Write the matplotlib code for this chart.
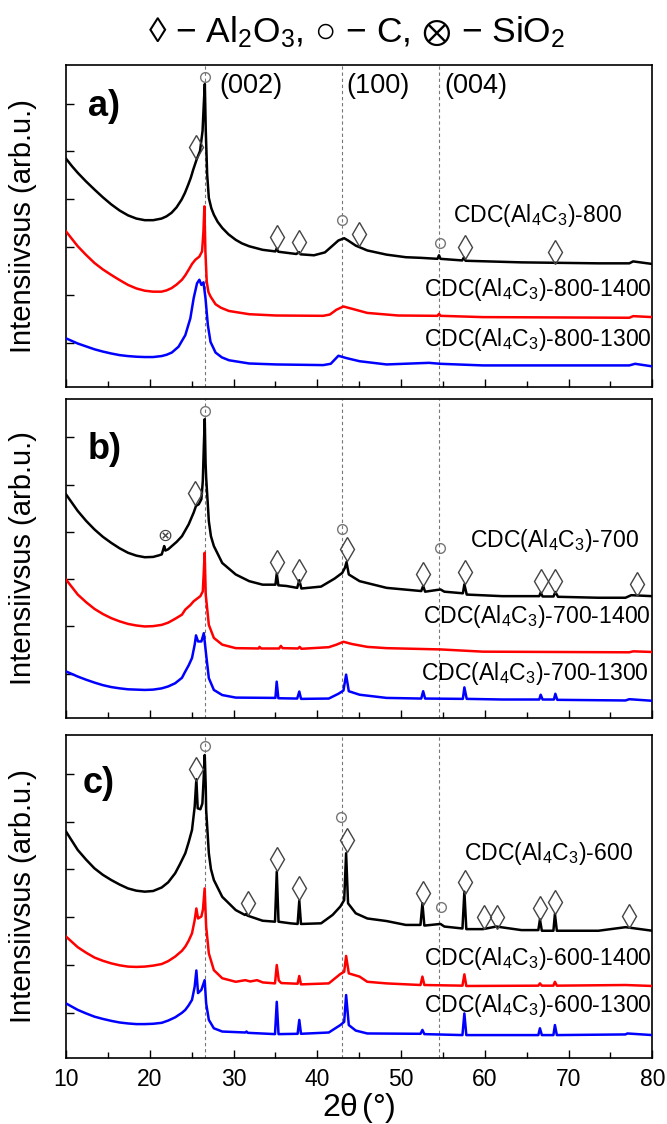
import matplotlib
matplotlib.use('Agg')
import matplotlib.pyplot as plt
from matplotlib.ticker import MultipleLocator

# fonts: Arial-like text, Arial-like subscripts in mathtext
plt.rcParams['font.family'] = ['Liberation Sans', 'DejaVu Sans']
plt.rcParams['mathtext.fontset'] = 'custom'
plt.rcParams['mathtext.rm'] = 'Liberation Sans'
plt.rcParams['mathtext.it'] = 'Liberation Sans:italic'
plt.rcParams['mathtext.default'] = 'regular'
plt.rcParams['mathtext.fallback'] = 'stixsans'

# ---------------- data (2theta in deg, intensity in arb. units 0..100 per panel)
# panel a
a800_x = [10.0, 10.7, 11.4, 12.4, 13.4, 14.4, 15.4, 16.4, 17.4, 18.4, 19.4, 20.4, 21.4, 22.0, 22.6, 23.2, 23.8,
          24.2, 24.6, 24.9, 25.2, 25.6, 26.0, 26.3, 26.45, 26.57, 26.68, 26.85, 27.05, 27.35, 27.65, 28.1, 28.65,
          29.4, 30.26, 31.0, 31.87, 33.47, 35.0, 35.15, 35.35, 37.5, 37.8, 38.0, 39.6, 40.91, 41.83, 42.52, 43.21,
          43.67, 44.59, 45.97, 48.27, 50.57, 52.41, 54.35, 54.53, 54.71, 57.3, 57.5, 57.7, 64.37, 73.57, 77.25,
          77.71, 80.0]
a800_y = [70.9, 68.6, 66.5, 63.8, 61.3, 58.9, 56.7, 54.8, 53.3, 52.3, 51.8, 51.8, 52.3, 53.0, 54.1, 55.8, 58.2,
          60.3, 62.9, 65.0, 67.6, 70.7, 73.3, 79.5, 88.0, 94.1, 80.0, 66.0, 58.7, 55.5, 53.5, 51.3, 49.4,
          47.4, 45.7, 44.6, 43.7, 42.6, 42.1, 43.0, 42.0, 41.3, 41.9, 41.2, 40.9, 41.8, 43.9, 45.5, 46.2,
          45.5, 43.9, 42.4, 41.1, 40.3, 40.1, 39.8, 40.9, 39.8, 39.3, 40.2, 39.2, 38.7, 38.4, 38.4,
          39.0, 38.2]
a1400_x = [10.0, 10.7, 11.4, 12.4, 13.4, 14.4, 15.4, 16.4, 17.4, 18.4, 19.4, 20.4, 21.4, 22.0, 22.6, 23.2, 23.84,
           24.24, 24.64, 25.04, 25.44, 25.92, 26.24, 26.4, 26.52, 26.64, 26.8, 27.0, 27.25, 27.85, 28.5, 29.46,
           31.87, 35.08, 40.7, 41.5, 42.29, 43.12, 44.13, 45.97, 49.65, 54.35, 54.53, 54.71, 59.77, 77.25, 77.71,
           80.0]
a1400_y = [48.3, 46.0, 43.7, 41.0, 38.5, 36.5, 34.8, 33.2, 31.7, 30.6, 29.9, 29.6, 29.6, 30.0, 30.7, 31.8, 33.3,
           34.7, 36.4, 38.2, 39.5, 40.5, 42.1, 48.0, 56.1, 42.1, 32.7, 29.5, 28.1, 25.7, 24.6, 23.6,
           22.6, 22.2, 22.1, 22.5, 24.0, 25.0, 24.3, 23.0, 22.2, 22.1, 22.7, 22.1, 21.7, 21.5, 22.0,
           21.7]
a1300_x = [10.0, 11.4, 12.4, 13.4, 14.4, 15.4, 16.4, 17.4, 18.4, 19.4, 20.4, 21.4, 22.0, 22.63, 23.43, 24.24,
           24.84, 25.24, 25.64, 25.92, 26.16, 26.41, 26.65, 26.93, 27.25, 27.85, 28.6, 29.46, 31.87, 35.08, 40.7,
           41.6, 42.52, 43.44, 45.05, 48.27, 53.33, 54.71, 59.77, 77.25, 77.94, 80.0]
a1300_y = [15.1, 13.5, 12.6, 11.7, 11.0, 10.4, 9.9, 9.6, 9.4, 9.3, 9.3, 9.6, 10.0, 10.7, 12.5, 16.1,
           21.3, 27.6, 32.2, 33.3, 31.7, 32.5, 27.6, 19.3, 14.0, 10.7, 9.2, 8.3, 7.3, 7.0, 6.8,
           7.2, 9.7, 9.0, 8.0, 7.0, 7.5, 7.2, 6.7, 6.7, 7.2, 6.4]

# panel b
b700_x = [10.0, 11.4, 12.4, 13.4, 14.4, 15.4, 16.4, 17.4, 18.4, 19.4, 20.4, 21.1, 21.43, 21.6, 21.72, 21.86, 22.2,
          22.63, 23.2, 23.84, 24.64, 25.24, 25.52, 25.84, 26.16, 26.33, 26.45, 26.56, 26.66, 26.73, 27.05, 27.3,
          27.65, 28.65, 30.26, 31.87, 33.47, 35.0, 35.16, 35.35, 36.3, 37.6, 37.85, 38.1, 40.45, 42.06, 42.98,
          43.3, 43.49, 43.76, 45.05, 48.27, 52.41, 52.64, 52.87, 54.71, 55.17, 57.38, 57.56, 57.84, 62.07, 66.5,
          66.67, 66.9, 68.2, 68.42, 68.74, 73.57, 76.79, 77.48, 80.0]
b700_y = [70.1, 64.9, 61.8, 59.1, 56.8, 54.9, 53.2, 51.8, 50.9, 50.4, 50.5, 51.0, 51.3, 52.8, 53.9, 52.5, 52.9,
          53.9, 55.2, 57.0, 60.7, 64.4, 66.5, 67.0, 68.6, 74.3, 85.0, 93.7, 80.0, 75.4, 61.7, 57.0,
          53.9, 48.6, 45.0, 42.9, 41.8, 41.8, 45.3, 41.6, 41.4, 40.8, 43.2, 40.6, 41.2, 43.7, 45.5,
          47.1, 48.9, 45.0, 42.9, 40.8, 39.8, 41.4, 39.6, 40.3, 39.6, 39.1, 41.9, 38.7, 38.2, 38.2,
          39.3, 38.1, 38.1, 39.5, 38.0, 37.7, 37.7, 38.5, 38.2]
b1400_x = [10.0, 11.4, 12.4, 13.4, 14.4, 15.4, 16.4, 17.4, 18.4, 19.4, 20.4, 21.43, 22.2, 23.03, 23.84, 24.24,
           24.84, 25.24, 26.04, 26.33, 26.45, 26.55, 26.68, 27.05, 27.65, 28.65, 30.26, 33.0, 33.1, 33.3, 35.45,
           35.65, 35.85, 37.7, 37.9, 38.1, 41.37, 42.29, 43.12, 44.13, 45.97, 48.27, 54.71, 59.77, 77.25, 77.71,
           80.0]
b1400_y = [43.4, 38.7, 36.3, 34.2, 32.6, 31.3, 30.3, 29.5, 29.0, 28.7, 28.8, 29.2, 29.9, 31.1, 32.4, 34.0,
           35.4, 36.6, 38.2, 39.7, 46.0, 51.8, 38.7, 29.2, 25.1, 23.0, 21.9, 21.8, 22.3, 21.8, 21.8,
           22.6, 21.9, 21.8, 22.3, 21.7, 22.2, 23.0, 23.9, 23.2, 22.3, 21.9, 21.5, 20.8, 20.6, 20.9,
           20.7]
b1300_x = [10.0, 11.4, 12.4, 13.4, 14.4, 15.4, 16.4, 17.4, 18.4, 19.4, 20.4, 21.43, 22.2, 23.03, 23.84, 24.24,
           24.64, 25.04, 25.36, 25.52, 25.76, 26.16, 26.45, 26.73, 27.05, 27.65, 28.65, 30.26, 35.0, 35.15, 35.35,
           37.6, 37.85, 38.06, 41.37, 42.52, 43.12, 43.44, 43.76, 45.05, 48.27, 52.41, 52.64, 52.87, 57.38, 57.56,
           57.84, 62.07, 66.5, 66.67, 66.9, 68.25, 68.42, 68.65, 76.79, 77.25, 80.0]
b1300_y = [14.6, 13.0, 12.0, 11.1, 10.3, 9.7, 9.3, 9.0, 8.9, 8.8, 8.9, 9.3, 9.9, 10.9, 12.6, 14.6,
           16.5, 18.8, 23.0, 25.9, 24.0, 24.0, 26.6, 19.8, 12.5, 8.8, 7.2, 6.4, 6.3, 11.4, 6.2,
           6.1, 8.3, 6.0, 6.1, 7.6, 8.6, 13.6, 8.4, 7.3, 6.3, 6.1, 8.4, 6.1, 6.0, 9.6,
           6.0, 5.8, 5.8, 7.3, 5.8, 5.8, 7.6, 5.7, 5.5, 5.9, 5.4]

# panel c
c600_x = [10.0, 11.4, 12.4, 13.4, 14.4, 15.4, 16.4, 17.4, 18.4, 19.4, 20.4, 21.43, 22.2, 23.03, 23.6, 24.24, 24.64,
          25.04, 25.36, 25.56, 25.72, 26.04, 26.28, 26.42, 26.56, 26.68, 26.73, 27.05, 27.3, 27.65, 28.65, 30.26,
          31.35, 31.5, 31.65, 33.47, 34.95, 35.16, 35.37, 36.77, 37.65, 37.85, 38.05, 40.45, 41.83, 42.75, 43.21,
          43.44, 43.67, 44.59, 45.97, 48.27, 50.57, 52.32, 52.55, 52.78, 54.71, 55.17, 57.33, 57.56, 57.79, 59.77,
          61.38, 64.37, 66.39, 66.58, 66.81, 68.19, 68.37, 68.6, 73.57, 76.79, 77.71, 80.0]
c600_y = [70.1, 64.4, 61.4, 58.7, 56.7, 55.1, 53.7, 52.5, 51.8, 51.5, 51.7, 52.8, 54.4, 57.2, 60.0, 63.4, 66.8,
          70.6, 77.8, 86.3, 77.3, 77.0, 78.8, 86.0, 93.8, 84.0, 76.8, 63.4, 58.5, 55.1, 49.9, 45.8,
          44.3, 44.6, 44.1, 42.5, 42.2, 57.7, 42.2, 41.7, 41.5, 48.7, 41.5, 41.7, 44.3, 46.9, 48.9,
          63.4, 47.9, 44.8, 43.2, 42.4, 41.2, 41.2, 47.9, 41.0, 41.5, 40.7, 40.1, 51.5, 39.9, 39.9,
          40.7, 39.6, 39.6, 42.9, 39.4, 39.4, 44.6, 39.4, 39.4, 40.5, 40.2, 39.4]
c1400_x = [10.0, 11.4, 12.4, 13.4, 14.4, 15.4, 16.4, 17.4, 18.4, 19.4, 20.4, 21.43, 22.2, 23.03, 23.84, 24.24,
           24.64, 25.04, 25.36, 25.56, 25.76, 26.16, 26.35, 26.55, 26.73, 27.05, 27.65, 28.65, 30.26, 31.4, 32.0,
           32.8, 33.5, 34.95, 35.16, 35.4, 35.7, 37.65, 37.85, 38.05, 41.37, 42.75, 43.21, 43.44, 43.76, 45.05,
           45.97, 48.27, 52.32, 52.55, 52.78, 57.33, 57.56, 57.79, 66.39, 66.58, 66.81, 68.19, 68.37, 68.6, 76.79,
           80.0]
c1400_y = [37.6, 34.3, 32.6, 31.1, 30.1, 29.3, 28.7, 28.3, 28.2, 28.3, 28.6, 29.1, 30.0, 31.4, 33.2, 34.5,
           36.3, 38.6, 42.7, 46.3, 43.2, 43.8, 46.0, 52.5, 40.7, 32.4, 27.2, 24.7, 23.6, 24.1, 23.7,
           24.1, 23.4, 23.1, 28.8, 24.0, 23.2, 23.0, 25.4, 22.8, 23.1, 26.0, 26.7, 31.6, 26.2, 25.2,
           23.6, 23.1, 22.6, 25.2, 22.6, 22.4, 25.9, 22.3, 22.4, 23.1, 22.4, 22.4, 23.6, 22.4, 22.6,
           22.3]
c1300_x = [10.0, 11.4, 12.4, 13.4, 14.4, 15.4, 16.4, 17.4, 18.4, 19.4, 20.4, 21.43, 22.2, 23.03, 23.84, 24.24,
           24.64, 25.04, 25.36, 25.56, 25.76, 26.16, 26.55, 26.73, 27.05, 27.65, 28.65, 31.4, 31.55, 31.7, 34.95,
           35.16, 35.37, 37.65, 37.85, 38.05, 41.37, 42.75, 43.21, 43.44, 43.76, 44.59, 45.97, 52.32, 52.55, 52.78,
           57.33, 57.56, 57.79, 66.39, 66.58, 66.81, 68.19, 68.37, 68.6, 76.79, 77.02, 80.0]
c1300_y = [16.9, 14.9, 13.8, 12.8, 12.1, 11.5, 11.0, 10.7, 10.5, 10.5, 10.6, 10.9, 11.6, 12.6, 14.0, 14.9,
           16.3, 18.0, 22.1, 27.1, 20.1, 21.1, 24.1, 16.9, 11.8, 9.2, 8.2, 7.9, 8.2, 7.8, 7.4,
           17.4, 7.4, 7.5, 11.8, 7.5, 7.9, 10.2, 11.2, 19.5, 10.2, 8.5, 7.6, 7.5, 8.7, 7.4,
           7.1, 13.8, 7.1, 7.1, 9.2, 7.1, 7.1, 10.2, 7.1, 7.3, 7.6, 7.1]

# phase markers (diamond = Al2O3, circle = C, otimes = SiO2)
a_dia_x = [25.5, 35.2, 37.8, 44.96, 57.6, 68.4]
a_dia_y = [74.4, 46.5, 44.9, 47.5, 43.4, 41.8]
a_cir_x = [26.6, 42.98, 54.6]
a_cir_y = [96.3, 51.9, 44.6]
b_dia_x = [25.4, 35.2, 37.8, 43.6, 52.6, 57.6, 66.7, 68.4, 78.2]
b_dia_y = [70.5, 48.9, 46.1, 52.9, 45.2, 45.8, 42.9, 42.9, 42.1]
b_cir_x = [26.6, 42.98, 54.7]
b_cir_y = [96.3, 59.2, 53.4]
b_sio2_x = [21.8]
b_sio2_y = [57.1]
c_dia_x = [25.5, 31.7, 35.2, 37.8, 43.6, 52.6, 57.6, 59.9, 61.4, 66.6, 68.4, 77.2]
c_dia_y = [89.4, 48.1, 61.5, 52.5, 67.5, 51.2, 54.6, 43.8, 43.8, 46.3, 48.4, 44.0]
c_cir_x = [26.6, 42.8, 54.8]
c_cir_y = [96.6, 74.7, 46.9]

ref_lines = [26.6, 42.93, 54.53]
y_ticks = [13.8, 28.7, 43.5, 58.4, 73.2, 88.0]

a_names = ['CDC(Al$_4$C$_3$)-800', 'CDC(Al$_4$C$_3$)-800-1400', 'CDC(Al$_4$C$_3$)-800-1300']
a_name_x = [76.4, 79.9, 79.9]
a_name_y = [51.1, 28.4, 12.6]
b_names = ['CDC(Al$_4$C$_3$)-700', 'CDC(Al$_4$C$_3$)-700-1400', 'CDC(Al$_4$C$_3$)-700-1300']
b_name_x = [78.4, 79.8, 79.6]
b_name_y = [53.7, 29.8, 11.8]
c_names = ['CDC(Al$_4$C$_3$)-600', 'CDC(Al$_4$C$_3$)-600-1400', 'CDC(Al$_4$C$_3$)-600-1300']
c_name_x = [77.7, 79.9, 79.9]
c_name_y = [61.3, 28.8, 14.3]

colors = ['black', '#ff0000', '#0000ff']

fig = plt.figure(figsize=(6.67, 11.24), dpi=100)
ax_a = fig.add_axes([0.099, 0.6557, 0.879, 0.2865])
ax_b = fig.add_axes([0.099, 0.3612, 0.879, 0.2838])
ax_c = fig.add_axes([0.099, 0.0587, 0.879, 0.2874])


def draw_panel(ax, curves, names, nx, ny, dx, dy, cx, cy, letter, ly, lx):
    for xl in ref_lines:
        ax.axvline(xl, color='#777777', lw=0.8, ls=(0, (3, 2.5)), zorder=1)
    for (xs, ys), col in zip(curves, colors):
        ax.plot(xs, ys, color=col, lw=1.8, zorder=3)
    for name, tx, ty in zip(names, nx, ny):
        ax.text(tx, ty, name, ha='right', va='baseline', fontsize=16.6)
    ax.plot(dx, dy, ls='none', marker='d', ms=12.5, mfc='none', mec='#444444', mew=1.0, zorder=4)
    ax.plot(cx, cy, ls='none', marker='o', ms=7, mfc='none', mec='#777777', mew=1.0, zorder=4)
    ax.text(lx, ly, letter, fontsize=26, fontweight='bold')
    ax.set_xlim(10, 80)
    ax.set_ylim(0, 100)
    ax.set_xticks(range(10, 81, 10))
    ax.xaxis.set_minor_locator(MultipleLocator(5))
    ax.set_yticks(y_ticks)
    ax.tick_params(which='major', direction='in', length=6, width=1, top=False, right=False)
    ax.tick_params(which='minor', direction='in', length=4, width=1, top=False, right=False)
    ax.set_yticklabels([])
    for sp in ax.spines.values():
        sp.set_linewidth(1.2)
    ax.set_ylabel('Intensiivsus (arb.u.)', fontsize=21)
    ax.yaxis.set_label_coords(-0.05, 0.5)


draw_panel(ax_a, [(a800_x, a800_y), (a1400_x, a1400_y), (a1300_x, a1300_y)],
           a_names, a_name_x, a_name_y, a_dia_x, a_dia_y, a_cir_x, a_cir_y, 'a)', 84.2, 12.6)
draw_panel(ax_b, [(b700_x, b700_y), (b1400_x, b1400_y), (b1300_x, b1300_y)],
           b_names, b_name_x, b_name_y, b_dia_x, b_dia_y, b_cir_x, b_cir_y, 'b)', 81.1, 12.6)
draw_panel(ax_c, [(c600_x, c600_y), (c1400_x, c1400_y), (c1300_x, c1300_y)],
           c_names, c_name_x, c_name_y, c_dia_x, c_dia_y, c_cir_x, c_cir_y, 'c)', 81.9, 12.0)

for sx, sy in zip(b_sio2_x, b_sio2_y):
    ax_b.text(sx, sy, '⊗', ha='center', va='center', fontsize=13, color='#444444',
              family='DejaVu Sans', zorder=4)

# (hkl) labels of carbon reflections
for hx, hl in zip([28.26, 43.44, 55.17], ['(002)', '(100)', '(004)']):
    ax_a.text(hx, 91.4, hl, fontsize=19.5, va='baseline')

ax_a.set_xticklabels([])
ax_b.set_xticklabels([])
ax_c.tick_params(axis='x', labelsize=16.5, pad=7)
ax_c.set_xlabel('$2\\theta\\,(°)$', fontsize=23, math_fontfamily='stix', labelpad=0)

fig.text(0.534, 0.971, '◊ − Al$_2$O$_3$, ○ − C, $\\otimes$ − SiO$_2$', ha='center', va='center',
         fontsize=25.5)

fig.savefig('out.png', dpi=100)
